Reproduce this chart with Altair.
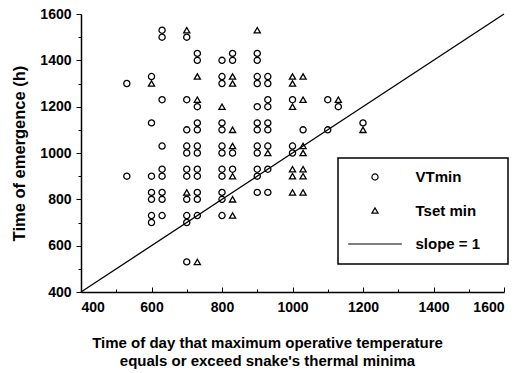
import altair as alt
import pandas as pd

# ---- data (clock times, e.g. 730 = 07:30) ----
vt_x = [530, 530,
        600, 600, 600, 600, 600, 600, 600,
        630, 630, 630, 630, 630, 630, 630, 630, 630,
        700, 700, 700, 700, 700, 700, 700, 700, 700, 700, 700,
        730, 730, 730, 730, 730, 730, 730, 730, 730, 730, 730, 730,
        800, 800, 800, 800, 800, 800, 800, 800, 800, 800, 800, 800,
        830, 830, 830, 830,
        900, 900, 900, 900, 900, 900, 900, 900, 900, 900, 900, 900,
        930, 930, 930, 930, 930, 930, 930, 930, 930,
        1000, 1000, 1000,
        1030,
        1100, 1100,
        1130,
        1200]
vt_y = [1300, 900,
        1330, 1130, 900, 830, 800, 730, 700,
        1530, 1500, 1230, 1030, 930, 900, 830, 800, 730,
        1500, 1230, 1100, 1030, 1000, 930, 900, 800, 730, 700, 530,
        1430, 1400, 1200, 1130, 1100, 1030, 1000, 930, 900, 830, 800, 730,
        1400, 1330, 1300, 1130, 1100, 1030, 1000, 930, 900, 830, 800, 730,
        1430, 1400, 1000, 930,
        1430, 1400, 1330, 1300, 1200, 1130, 1100, 1030, 1000, 930, 900, 830,
        1330, 1300, 1230, 1200, 1130, 1100, 1030, 930, 830,
        1230, 1030, 1000,
        1100,
        1230, 1100,
        1200,
        1130]

ts_x = [600,
        700, 700,
        730, 730, 730,
        800,
        830, 830, 830, 830, 830, 830, 830,
        900,
        930,
        1000, 1000, 1000, 1000, 1000, 1000,
        1030, 1030, 1030, 1030, 1030, 1030, 1030,
        1130,
        1200]
ts_y = [1300,
        1530, 830,
        1330, 1230, 530,
        1200,
        1330, 1300, 1100, 1030, 900, 800, 730,
        1530,
        1000,
        1330, 1300, 1200, 930, 900, 830,
        1330, 1230, 1030, 1000, 930, 900, 830,
        1230,
        1100]

slope_x = [400, 1600]
slope_y = [400, 1600]

series_names = ["VTmin", "Tset min", "slope = 1"]
major_ticks = [400, 600, 800, 1000, 1200, 1400, 1600]
minor_ticks = [500, 700, 900, 1100, 1300, 1500]

# ---- layout ----
W, H = 423, 278
FONT = "Liberation Sans"

points = pd.DataFrame({
    "x": vt_x + ts_x,
    "y": vt_y + ts_y,
    "series": [series_names[0]] * len(vt_x) + [series_names[1]] * len(ts_x),
})
line_df = pd.DataFrame({"x": slope_x, "y": slope_y})

xscale = alt.Scale(domain=[400, 1600], nice=False, zero=False)
yscale = alt.Scale(domain=[400, 1600], nice=False, zero=False)

# legend symbol for the y = x line: a horizontal stroke (the trailing move
# only widens the legend box to the right)
shape_scale = alt.Scale(domain=series_names,
                        range=["circle", "triangle-up", "M-8.7,0L8.7,0M38.5,0"])

line = alt.Chart(line_df).mark_line(color="black", strokeWidth=1.3).encode(
    x=alt.X("x:Q", scale=xscale,
            axis=alt.Axis(orient="top", offset=-H, values=major_ticks, tickSize=5,
                          tickColor="black", tickWidth=1, labels=False, domain=False,
                          grid=False, title=None)),
    y=alt.Y("y:Q", scale=yscale,
            axis=alt.Axis(orient="left", values=minor_ticks, tickSize=3,
                          tickColor="black", tickWidth=1, labels=False, domain=False,
                          grid=False, title=None)),
)

ghost = alt.Chart(line_df).mark_line(strokeOpacity=0).encode(
    x=alt.X("x:Q", scale=xscale,
            axis=alt.Axis(orient="top", offset=-H, values=minor_ticks, tickSize=3,
                          tickColor="black", tickWidth=1, labels=False, domain=False,
                          grid=False, title=None)),
    y=alt.Y("y:Q", scale=yscale, axis=None),
)

pts = alt.Chart(points).mark_point(filled=False, color="black", strokeWidth=1.3,
                                   size=38, opacity=1).encode(
    x=alt.X("x:Q", scale=xscale,
            axis=alt.Axis(orient="bottom", values=major_ticks, format="d",
                          ticks=False, tickSize=0,
                          labelPadding=8, labelFont=FONT, labelFontSize=14,
                          labelFontWeight="bold", labelColor="black",
                          domainColor="black", domainWidth=1.5, grid=False,
                          title=["Time of day that maximum operative temperature",
                                 "equals or exceed snake's thermal minima"],
                          titleFont=FONT, titleFontSize=15, titleFontWeight="bold",
                          titleColor="black", titleX=186, titleY=43,
                          titleAlign="center", titleBaseline="top",
                          titleLineHeight=18)),
    y=alt.Y("y:Q", scale=yscale,
            axis=alt.Axis(orient="left", values=major_ticks, format="d", tickSize=5,
                          tickColor="black", tickWidth=1, labelPadding=5,
                          labelFont=FONT, labelFontSize=14, labelFontWeight="bold",
                          labelColor="black", domainColor="black", domainWidth=1.5,
                          grid=False, title="Time of emergence (h)", titleFont=FONT,
                          titleFontSize=16.5, titleFontWeight="bold", titleColor="black",
                          titleAngle=270, titleX=-62, titleY=139, titleAlign="center",
                          titleBaseline="middle")),
    shape=alt.Shape("series:N", scale=shape_scale,
                    legend=alt.Legend(title=None, orient="none", legendX=257, legendY=144,
                                      strokeColor="black", padding=11.5,
                                      symbolOffset=18, labelOffset=33,
                                      symbolSize=38, symbolStrokeWidth=1.2,
                                      symbolStrokeColor="black", symbolType="circle",
                                      labelFont=FONT, labelFontSize=15,
                                      labelFontWeight="bold", labelColor="black",
                                      rowPadding=17.5)),
)

chart = alt.layer(line, ghost, pts).resolve_axis(
    x="independent", y="independent"
).properties(
    width=W, height=H,
    autosize=alt.AutoSizeParams(type="none"),
    padding={"left": 81, "top": 14, "right": 15, "bottom": 81},
    background="white",
).configure_view(stroke=None).configure_legend(strokeWidth=1.5)

chart.save("out.html", embed_options={"renderer": "svg", "actions": False})
